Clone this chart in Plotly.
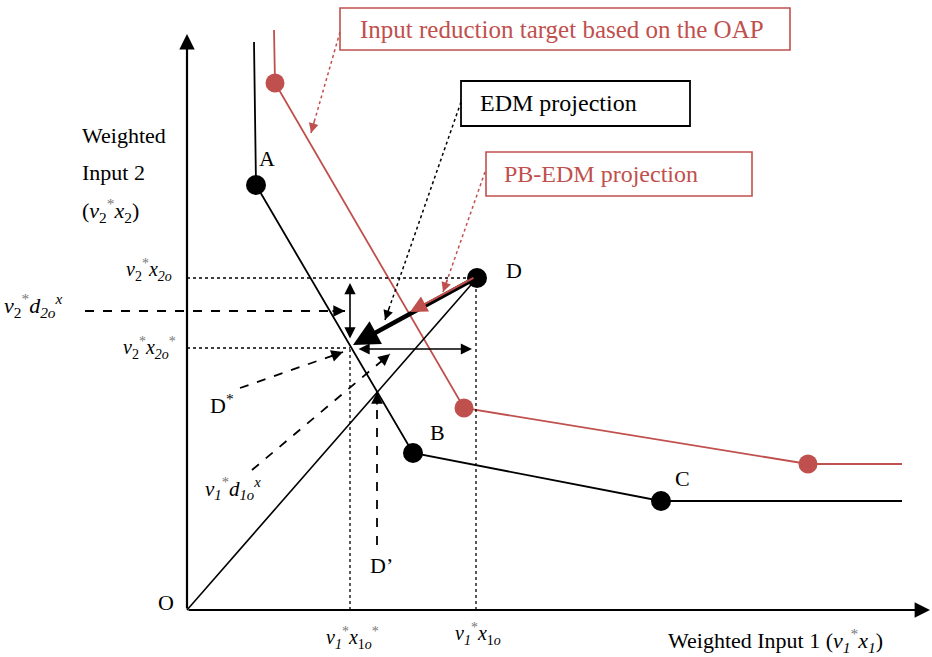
import plotly.graph_objects as go

# ---- data (units measured from origin O) ----
efficient_labels = ["A", "B", "C"]
efficient_x = [69, 226, 474]
efficient_y = [425, 157, 109]
efficient_top_y = 568
frontier_end_x = 715

oap_x = [88, 277, 621]
oap_y = [527, 202, 146]
oap_top_y = 580

point_D = [290, 332]
point_Dstar = [163, 262]
point_Dprime = [190, 218]

RED = "#c0504d"
FONT = "Liberation Serif"

fig = go.Figure()

# efficient (black) frontier
bx = [efficient_x[0] - 2] + efficient_x + [frontier_end_x]
by = [efficient_top_y] + efficient_y + [efficient_y[-1]]
fig.add_trace(go.Scatter(x=bx, y=by, mode="lines", line=dict(color="black", width=1.8), hoverinfo="skip"))
# OAP (red) frontier
rx = [oap_x[0] - 1] + oap_x + [frontier_end_x]
ry = [oap_top_y] + oap_y + [oap_y[-1]]
fig.add_trace(go.Scatter(x=rx, y=ry, mode="lines", line=dict(color=RED, width=1.8), hoverinfo="skip"))
# ray O-D
fig.add_trace(go.Scatter(x=[0, point_D[0]], y=[0, point_D[1]], mode="lines", line=dict(color="black", width=1.6), hoverinfo="skip"))

# dotted guide lines
dot = dict(color="black", width=1.3, dash="dot")
for xs, ys in [([0, point_D[0]], [point_D[1], point_D[1]]),
               ([0, point_Dstar[0]], [point_Dstar[1], point_Dstar[1]]),
               ([point_Dstar[0], point_Dstar[0]], [0, point_Dstar[1]]),
               ([point_D[0] - 1, point_D[0] - 1], [0, point_D[1]])]:
    fig.add_trace(go.Scatter(x=xs, y=ys, mode="lines", line=dot, hoverinfo="skip"))

# markers
fig.add_trace(go.Scatter(x=oap_x, y=oap_y, mode="markers", marker=dict(color=RED, size=19), hoverinfo="skip"))
fig.add_trace(go.Scatter(x=efficient_x + [point_D[0]], y=efficient_y + [point_D[1]], mode="markers",
                         marker=dict(color="black", size=20), hoverinfo="skip"))

ann = []
def arrow(x, y, ax, ay, color="black", width=1.6, head=2, size=1.3, side="end"):
    ann.append(dict(x=x, y=y, ax=ax, ay=ay, xref="x", yref="y", axref="x", ayref="y",
                    showarrow=True, arrowhead=head, arrowsize=size, arrowwidth=width,
                    arrowcolor=color, arrowside=side, text=""))

def dashed_arrow(x0, y0, x1, y1, color="black", dash="dash", width=1.8, size=1.3):
    fig.add_trace(go.Scatter(x=[x0, x1], y=[y0, y1], mode="lines",
                             line=dict(color=color, width=width, dash=dash), hoverinfo="skip"))
    dx, dy = x1 - x0, y1 - y0
    L = (dx * dx + dy * dy) ** 0.5
    arrow(x1, y1, x1 - dx / L * 14, y1 - dy / L * 14, color=color, width=width, size=size)

# axes with arrowheads
arrow(0, 576, 0, 0, width=2.2, size=1.4)
arrow(743, 0, 0, 0, width=2.2, size=1.4)

# double arrows
arrow(point_Dstar[0], 327, point_Dstar[0], 270, width=1.6, size=1.4, side="end+start")
arrow(285, 261, 170, 261, width=1.6, size=1.4, side="end+start")

# thick projection arrow and red PB-EDM arrow
arrow(166, 265, point_D[0] - 3, point_D[1] - 1, width=4.5, size=1.15)
arrow(223, 298, point_D[0] - 2, point_D[1] + 1, color=RED, width=2, size=1.7)

# dashed pointers
dashed_arrow(-102, 299, 158, 299)
dashed_arrow(53, 222, 156, 258)
dashed_arrow(65, 140, 203, 256)
dashed_arrow(point_Dprime[0], 65, point_Dprime[0], point_Dprime[1])

# dotted pointers from boxes
dashed_arrow(153, 578, 124, 477, color=RED, dash="dot", width=1.5)
dashed_arrow(274, 508, 198, 290, color="black", dash="dot", width=1.5)
dashed_arrow(298, 438, 256, 318, color=RED, dash="dot", width=1.5)

# boxes
shapes = [
    dict(type="rect", x0=153, x1=603, y0=560, y1=602, line=dict(color=RED, width=1.6)),
    dict(type="rect", x0=274, x1=503, y0=484, y1=529, line=dict(color="black", width=1.8)),
    dict(type="rect", x0=299, x1=565, y0=414, y1=458, line=dict(color=RED, width=1.6)),
]

def label(x, y, text, size=20, color="black", xanchor="center"):
    ann.append(dict(x=x, y=y, xref="x", yref="y", text=text, showarrow=False,
                    font=dict(family=FONT, size=size, color=color), xanchor=xanchor, yanchor="middle"))

label(171, 581, "Input reduction target based on the OAP", 25, RED, "left")
label(291, 507, "EDM projection", 24, "black", "left")
label(315, 436, "PB-EDM projection", 24, RED, "left")

label(80, 452, "A", 22)
label(250, 178, "B", 22)
label(495, 132, "C", 22)
label(327, 340, "D", 22)
label(-21, 8, "O", 22)
label(35, 206, "D<sup>*</sup>", 22)
label(194, 45, "D’", 22)

star = "<span style='color:#777'>*</span>"
label(-107, 475, "Weighted", 22, xanchor="left")
label(-107, 438, "Input 2", 22, xanchor="left")
label(-107, 400, "(<i>v</i><sub>2</sub><sup>" + star + "</sup><i>x</i><sub>2</sub>)", 22, xanchor="left")
label(-38, 340, "<i>v</i><sub>2</sub><sup>" + star + "</sup><i>x</i><sub><i>2o</i></sub>", 20)
label(-38, 262, "<i>v</i><sub>2</sub><sup>" + star + "</sup><i>x</i><sub><i>2o</i></sub><sup>" + star + "</sup>", 20)
label(-185, 305, "<i>v</i><sub>2</sub><sup>" + star + "</sup><i>d</i><sub><i>2o</i></sub><sup><i>x</i></sup>", 22, xanchor="left")
label(46, 122, "<i>v</i><sub><i>1</i></sub><sup>" + star + "</sup><i>d</i><sub><i>1o</i></sub><sup><i>x</i></sup>", 21)
label(165, -28, "<i>v</i><sub><i>1</i></sub><sup>" + star + "</sup><i>x</i><sub>1<i>o</i></sub><sup>" + star + "</sup>", 20)
label(291, -24, "<i>v</i><sub><i>1</i></sub><sup>" + star + "</sup><i>x</i><sub>1<i>o</i></sub>", 20)
label(588, -30, "Weighted Input 1 (<i>v</i><sub><i>1</i></sub><sup>" + star + "</sup><i>x</i><sub><i>1</i></sub>)", 22)

fig.update_layout(
    width=932, height=657, margin=dict(l=0, r=0, t=0, b=0),
    paper_bgcolor="white", plot_bgcolor="white", showlegend=False,
    xaxis=dict(range=[-187, 745], visible=False, fixedrange=True),
    yaxis=dict(range=[-47, 610], visible=False, fixedrange=True),
    shapes=shapes, annotations=ann,
    font=dict(family=FONT),
)
fig.write_html("out.html", config={"displayModeBar": False},
               post_script="document.body.style.margin='0';document.body.style.overflow='hidden';")
